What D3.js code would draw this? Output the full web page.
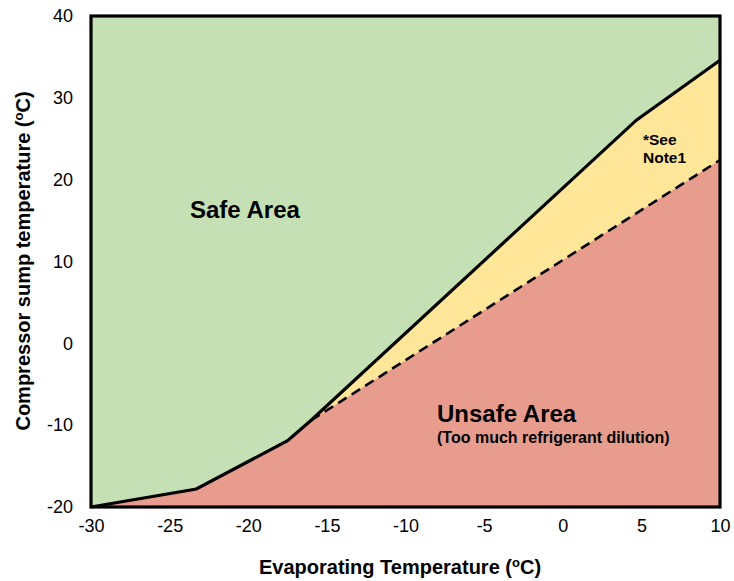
<!DOCTYPE html>
<html><head><meta charset="utf-8">
<script src="https://cdn.jsdelivr.net/npm/d3@7"></script>
<style>body{margin:0;background:#fff}svg{display:block}text{font-family:"Liberation Sans",Arial,sans-serif}</style>
</head><body>
<script>
const xTicks = [-30,-25,-20,-15,-10,-5,0,5,10];
const yTicks = [-20,-10,0,10,20,30,40];
// solid boundary (safe limit): evaporating temp, sump temp
const safeX = [-30,-23.3,-17.5,-16,4.7,10];
const safeY = [-20,-17.8,-11.9,-9.4,27.3,34.6];
// dashed boundary (Note1 limit)
const dashX = [-16,10];
const dashY = [-9.4,22.4];

const W=734,H=581;
const svg=d3.select("body").append("svg").attr("width",W).attr("height",H);
const x=d3.scaleLinear().domain([-30,10]).range([91,720]);
const y=d3.scaleLinear().domain([-20,40]).range([507,16]);

const safe=safeX.map((v,i)=>[v,safeY[i]]);
const dash=dashX.map((v,i)=>[v,dashY[i]]);
const line=d3.line().x(d=>x(d[0])).y(d=>y(d[1]));

svg.append("rect").attr("x",x(-30)).attr("y",y(40)).attr("width",x(10)-x(-30)).attr("height",y(-20)-y(40)).attr("fill","#c5e0b4");
const yellowPts=safe.concat([[10,-20],[-30,-20]]);
svg.append("path").attr("d",line(yellowPts)+"Z").attr("fill","#ffe699");
const iDash=safeX.indexOf(-16);
const pinkPts=safe.slice(0,iDash+1).concat(dash.slice(1)).concat([[10,-20],[-30,-20]]);
svg.append("path").attr("d",line(pinkPts)+"Z").attr("fill","#e89c8e");

svg.append("path").attr("d",line(dash)).attr("fill","none").attr("stroke","#000").attr("stroke-width",2.6).attr("stroke-dasharray","10,6");
svg.append("path").attr("d",line(safe)).attr("fill","none").attr("stroke","#000").attr("stroke-width",3.2).attr("stroke-linejoin","miter");
svg.append("rect").attr("x",x(-30)).attr("y",y(40)).attr("width",x(10)-x(-30)).attr("height",y(-20)-y(40)).attr("fill","none").attr("stroke","#000").attr("stroke-width",3.2);

const fmt=d=>String(d);
const xAxis=svg.append("g").attr("transform",`translate(0,${y(-20)})`).call(d3.axisBottom(x).tickValues(xTicks).tickSize(0).tickPadding(12).tickFormat(fmt));
const yAxis=svg.append("g").attr("transform",`translate(${x(-30)},0)`).call(d3.axisLeft(y).tickValues(yTicks).tickSize(0).tickPadding(18).tickFormat(fmt));
[xAxis,yAxis].forEach(g=>{g.select(".domain").remove();g.selectAll("text").attr("font-size",18).attr("font-family","Liberation Sans, Arial, sans-serif").attr("fill","#000");});

const xt=svg.append("text").attr("x",400).attr("y",574).attr("text-anchor","middle").attr("font-size",20).attr("font-weight","bold").text("Evaporating Temperature (");
xt.append("tspan").attr("font-size",13).attr("dy",-7).text("o");
xt.append("tspan").attr("dy",7).text("C)");
const yt=svg.append("text").attr("transform","translate(30,261) rotate(-90)").attr("text-anchor","middle").attr("font-size",20).attr("font-weight","bold").text("Compressor sump temperature (");
yt.append("tspan").attr("font-size",13).attr("dy",-7).text("o");
yt.append("tspan").attr("dy",7).text("C)");

svg.append("text").attr("x",190).attr("y",218).attr("font-size",24).attr("font-weight","bold").text("Safe Area");
svg.append("text").attr("x",437).attr("y",422).attr("font-size",24).attr("font-weight","bold").text("Unsafe Area");
svg.append("text").attr("x",437).attr("y",443).attr("font-size",16).attr("font-weight","bold").text("(Too much refrigerant dilution)");
svg.append("text").attr("x",643).attr("y",145).attr("font-size",15.5).attr("font-weight","bold").text("*See");
svg.append("text").attr("x",643).attr("y",163).attr("font-size",15.5).attr("font-weight","bold").text("Note1");
</script>
</body></html>
